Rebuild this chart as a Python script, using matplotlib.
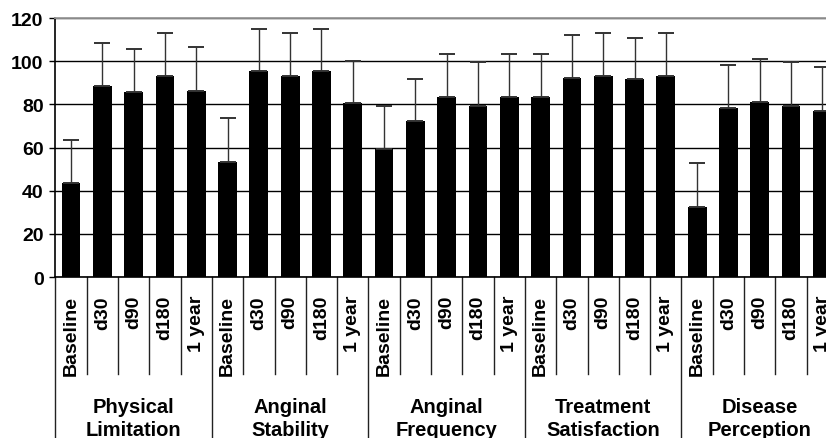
import matplotlib
matplotlib.use('Agg')
import matplotlib.pyplot as plt
import matplotlib.transforms as mtransforms

plt.rcParams['font.family'] = ['Liberation Sans', 'DejaVu Sans']
plt.rcParams['font.weight'] = 'bold'

# data
groups = ['Physical\nLimitation', 'Anginal\nStability', 'Anginal\nFrequency',
          'Treatment\nSatisfaction', 'Disease\nPerception']
times = ['Baseline', 'd30', 'd90', 'd180', '1 year']
means = [43.7, 88.5, 85.7, 93.1, 86.3,
         53.4, 95.6, 93.1, 95.6, 80.5,
         59.2, 72.4, 83.3, 79.4, 83.3,
         83.3, 92.1, 93.1, 91.6, 93.1,
         32.6, 78.2, 80.9, 79.4, 77.1]
upper = [63.6, 108.3, 105.8, 113.2, 106.4,
         73.7, 115.1, 113.2, 115.1, 100.0,
         79.2, 91.8, 103.5, 99.5, 103.5,
         103.5, 112.1, 113.2, 110.9, 113.2,
         52.7, 98.2, 101.0, 99.5, 97.1]
yticks = [0, 20, 40, 60, 80, 100, 120]

n = len(means)
x = list(range(n))
err = [u - m for u, m in zip(upper, means)]
labels = times * len(groups)

fig = plt.figure(figsize=(8.26, 4.39), dpi=100)
ax = fig.add_axes([0.0671, 0.3667, 0.9474, 0.59])

ax.bar(x, means, width=0.6, color='black', zorder=2)
ax.errorbar(x, means, yerr=[[0] * n, err], fmt='none', ecolor='#333333',
            elinewidth=1.0, capsize=6, capthick=1.4, zorder=3)

ax.set_xlim(-0.5, n - 0.5)
ax.set_ylim(0, 120)
ax.set_yticks(yticks)
ax.set_yticklabels([str(v) for v in yticks], fontsize=14, fontweight='bold')
ax.set_xticks(x)
ax.set_xticklabels(labels, rotation=90, fontsize=14, fontweight='bold')
ax.tick_params(axis='x', length=0, pad=13)
ax.tick_params(axis='y', length=4.5, width=1, pad=4, color='black')

ax.set_axisbelow(True)
ax.yaxis.grid(True, color='black', linewidth=1.0)
ax.spines['right'].set_visible(False)
ax.spines['top'].set_color('#999999')
ax.spines['top'].set_linewidth(1.3)
ax.spines['left'].set_linewidth(1.2)
ax.spines['bottom'].set_linewidth(1.2)

trans = mtransforms.blended_transform_factory(ax.transData, ax.transAxes)
for i in range(n + 1):
    xb = i - 0.5
    if i % 5 == 0:
        ybot = -0.65
    else:
        ybot = -0.375
    ax.plot([xb, xb], [0, ybot], color='#222222', lw=1.0, transform=trans,
            clip_on=False)

for g, name in enumerate(groups):
    ax.text(g * 5 + 2, -0.545, name, transform=trans, ha='center', va='center',
            fontsize=14.5, fontweight='bold', linespacing=1.25)

fig.savefig('out.png', dpi=100)
